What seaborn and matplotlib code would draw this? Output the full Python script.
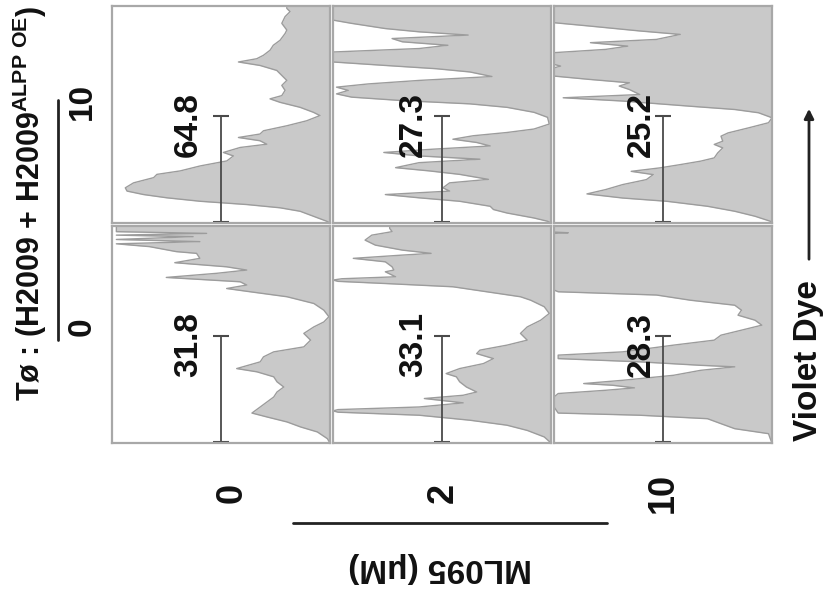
import numpy as np
import pandas as pd
import seaborn as sns
import matplotlib
matplotlib.use("Agg")
import matplotlib.pyplot as plt
from matplotlib.lines import Line2D
from matplotlib.patches import FancyArrowPatch

# ---------------- data ----------------
col_labels = ["0", "2", "10"]          # ML095 (uM)
row_labels = ["10", "0"]               # ratio row labels (top, bottom)
gate_values = [[64.8, 27.3, 25.2],
               [31.8, 33.1, 28.3]]

# Violet dye intensity (0-100, bottom->top) and normalised counts (0-100)
dye_a = [0, 0.8, 3.1, 5.4, 7.0, 8.5, 10.0, 11.6, 13.1, 14.7, 16.2, 18.5, 20.9, 22.4, 24.0, 26.3, 28.6, 30.9, 32.5, 34.8,
         36.3, 37.9, 39.4, 41.0, 42.5, 44.8, 47.1, 49.5, 51.0, 53.3, 55.6, 57.2, 58.7, 61.1, 63.4, 65.7, 68.0, 70.3, 72.6,
         74.2, 75.7, 77.3, 79.6, 81.9, 84.2, 87.3, 88.9, 92.0, 95.1, 97.4, 98.9, 100]
cnt_a = [0, 1.5, 7.6, 13.7, 22.9, 38.2, 59.5, 74.8, 85.5, 93.1, 93.9, 90.1, 80.9, 79.4, 68.7, 59.5, 47.3, 44.3, 48.9, 41.2,
         29.0, 32.1, 42.0, 32.1, 30.5, 19.8, 10.7, 4.6, 7.6, 13.7, 22.9, 27.5, 22.1, 20.6, 22.1, 19.8, 22.1, 24.4, 32.1,
         42.0, 33.6, 30.5, 27.5, 26.0, 22.9, 20.6, 19.8, 22.1, 20.6, 18.3, 19.8, 19.8]

dye_b = [0, 0.8, 2.3, 4.6, 6.2, 7.7, 10.0, 11.6, 13.1, 14.7, 16.2, 18.5, 20.1, 22.4, 24.0, 25.5, 27.8, 29.4, 30.9, 32.5,
         34.0, 35.5, 37.1, 38.6, 40.2, 41.7, 43.3, 45.6, 48.7, 51.0, 53.3, 54.9, 56.4, 58.0, 59.5, 61.1, 62.6, 64.1, 65.7,
         67.5, 69.6, 71.1, 72.6, 74.2, 78.8, 80.4, 81.9, 83.5, 85.0, 86.6, 88.1, 89.6, 92.0, 93.5, 100]
cnt_b = [0, 1.6, 7.8, 20.2, 26.4, 27.9, 41.9, 60.5, 76.0, 46.5, 49.6, 46.5, 28.7, 41.9, 55.8, 71.3, 60.5, 32.6, 60.5, 76.7,
         54.3, 27.9, 34.1, 45.0, 35.7, 20.2, 7.8, 0.8, 1.6, 7.8, 20.2, 37.2, 68.2, 91.5, 98.4, 93.0, 98.4, 83.7, 60.5,
         27.1, 37.2, 52.7, 76.0, 100, 100, 60.5, 47.3, 68.2, 72.9, 38.0, 60.5, 76.0, 91.5, 100, 100]

dye_c = [0, 0.8, 3.1, 5.4, 7.7, 10.0, 11.5, 13.4, 15.4, 17.7, 20.0, 22.3, 23.8, 25.4, 26.9, 28.5, 30.0, 32.3, 34.6, 36.2,
         37.7, 40.0, 41.5, 43.8, 46.2, 48.5, 50.8, 52.3, 53.8, 56.2, 57.7, 59.2, 61.5, 63.1, 64.6, 66.2, 67.7, 71.5, 72.3,
         73.1, 78.5, 80.0, 81.5, 83.1, 84.6, 86.9, 88.5, 90.8, 92.3, 100]
cnt_c = [0, 0.8, 7.8, 17.1, 29.6, 48.3, 68.5, 84.9, 76.3, 68.5, 57.6, 54.5, 64.6, 51.4, 42.1, 32.7, 26.5, 24.9, 22.6, 26.5,
         22.6, 23.4, 20.2, 10.9, 1.6, 0, 6.2, 17.1, 37.4, 68.5, 95.8, 60.7, 65.4, 70.1, 65.4, 84.1, 100, 100, 97,
         100, 100, 76.3, 66.2, 83.3, 53.0, 42.1, 60.7, 84.1, 100, 100]

dye_d = [0, 2.0, 5.1, 7.4, 9.7, 12.0, 13.8, 16.6, 18.9, 21.2, 23.5, 25.8, 28.2, 30.5, 32.8, 34.3, 37.4, 39.7, 42.0, 44.3,
         47.4, 50.5, 53.5, 55.8, 58.2, 61.2, 64.3, 67.4, 69.7, 71.2, 72.8, 74.3, 76.3, 78.2, 79.7, 81.2, 83.1, 85.1, 87.4,
         88.2, 90.5, 91.8, 92.8, 93.8, 95.1, 95.8, 96.6, 97.4, 100]
cnt_d = [0, 1.2, 5.8, 13.5, 19.7, 28.9, 35.8, 32.0, 28.9, 25.8, 24.3, 21.2, 24.3, 25.8, 33.5, 42.8, 32.0, 30.5, 25.8, 12.0,
         8.9, 12.0, 7.4, 2.8, 0.5, 2.8, 7.4, 19.7, 36.6, 47.4, 38.2, 41.2, 75.1, 52.0, 38.2, 47.4, 71.2, 59.7, 61.2,
         70.5, 82.8, 98, 59.7, 98, 62.8, 98, 56.6, 98, 98]

dye_e = [0, 2.8, 5.8, 8.2, 10.5, 12.8, 14.2, 14.8, 15.4, 16.6, 18.5, 20.5, 22.0, 23.5, 25.8, 28.2, 30.5, 32.0, 34.3, 36.6,
         38.9, 41.2, 42.8, 45.1, 47.4, 50.5, 53.5, 56.6, 59.7, 62.8, 65.8, 67.4, 69.7, 72.0, 73.5, 74.5, 75.1, 75.7, 76.6,
         78.9, 79.7, 81.2, 83.5, 85.1, 86.6, 87.4, 88.9, 91.2, 93.5, 95.8, 97.4, 98.9, 100]
cnt_e = [0, 3.1, 10.9, 20.2, 37.2, 60.5, 97.7, 100, 97.7, 60.5, 40.3, 58.1, 40.3, 34.1, 38.8, 41.9, 43.4, 48.1, 41.9, 31.0,
         26.4, 34.1, 32.6, 20.2, 10.9, 14.0, 10.9, 4.7, 0.8, 3.1, 9.3, 14.0, 29.5, 45.0, 76, 97.7, 100, 96, 71.3,
         76.0, 72.1, 72.9, 76.0, 90.7, 68.2, 55.0, 68.2, 80.6, 85.3, 82.2, 72.9, 74, 74]

dye_f = [0, 2.0, 4.3, 6.6, 8.9, 11.2, 12.8, 13.8, 16.6, 21.2, 22.8, 24.3, 25.4, 26.6, 27.4, 28.9, 31.2, 33.5, 35.1, 35.8,
         37.4, 38.9, 40.5, 42.0, 45.1, 47.4, 49.7, 52.0, 54.3, 56.6, 58.9, 61.2, 63.5, 65.8, 68.2, 69.7, 70.5, 96.6, 96.9,
         97.2, 100]
cnt_f = [0, 0.8, 1.6, 17.1, 23.4, 29.6, 60.7, 98.1, 100, 100, 98.1, 76.3, 63.1, 73, 86.4, 68.5, 45.2, 32.7, 17.1, 32.7,
         60.7, 98.1, 98.1, 68.5, 45.2, 26.5, 23.4, 14.0, 4.7, 7.8, 15.6, 14.0, 17.1, 37.4, 53.0, 98.1, 100, 100, 93.5,
         100, 100]

gate_low, gate_high = 0.6, 49.5

panels = [[(dye_a, cnt_a), (dye_b, cnt_b), (dye_c, cnt_c)],
          [(dye_d, cnt_d), (dye_e, cnt_e), (dye_f, cnt_f)]]
label_x = [[0.35, 0.37, 0.40], [0.35, 0.37, 0.40]]

# ---------------- style ----------------
sns.set_theme(style="white")
plt.rcParams["font.family"] = ["Liberation Sans", "DejaVu Sans"]
plt.rcParams["mathtext.fontset"] = "custom"
plt.rcParams["mathtext.rm"] = "Liberation Sans"
plt.rcParams["mathtext.bf"] = "Liberation Sans:bold"

W, H = 827, 596
fig, axes = plt.subplots(2, 3, figsize=(W / 100, H / 100), dpi=100)
fig.subplots_adjust(left=112 / W, right=772 / W, top=1 - 6 / H, bottom=1 - 443 / H,
                    wspace=0.014, hspace=0.014)

fill_c = "#c9c9c9"
edge_c = "#9c9c9c"
txt_c = "#111111"

for r in range(2):
    for c in range(3):
        ax = axes[r, c]
        dye, cnt = panels[r][c]
        df = pd.DataFrame({"dye": dye, "count": cnt})
        ax.fill_betweenx(df["dye"], 0, df["count"], color=fill_c, lw=0)
        sns.lineplot(data=df, x="count", y="dye", orient="y", sort=False, estimator=None,
                     color=edge_c, lw=1.0, ax=ax)
        ax.set_xlim(100, 0)
        ax.set_ylim(0, 100)
        ax.set_xticks([])
        ax.set_yticks([])
        ax.set_xlabel("")
        ax.set_ylabel("")
        for s in ax.spines.values():
            s.set_visible(True)
            s.set_color("#a8a8a8")
            s.set_linewidth(1.6)
        # gate bar
        ax.plot([50, 50], [gate_low, gate_high], color="#4a4a4a", lw=1.3)
        ax.plot([50, 50], [gate_low, gate_high], ls="none", marker="_", ms=11, mew=1.5, color="#4a4a4a")
        ax.text(label_x[r][c], 0.455, f"{gate_values[r][c]:.1f}", transform=ax.transAxes,
                rotation=90, ha="center", va="center", fontsize=24, fontweight="bold", color=txt_c)

def fx(px):
    return px / W

def fy(py):
    return 1 - py / H

# left title
fig.text(fx(30), fy(203), "Tø : (H2009 + H2009$^{\\mathbf{ALPP\\ OE}}$)", rotation=90,
         ha="center", va="center", fontsize=22, fontweight="bold", color=txt_c)
# row labels and bracket line
fig.text(fx(82), fy(101), row_labels[0], rotation=90, ha="center", va="center",
         fontsize=24, fontweight="bold", color=txt_c)
fig.text(fx(82), fy(327), row_labels[1], rotation=90, ha="center", va="center",
         fontsize=24, fontweight="bold", color=txt_c)
fig.add_artist(Line2D([fx(58), fx(58)], [fy(100), fy(340)], transform=fig.transFigure,
                      color="#222222", lw=2))

# column labels
for lab, px in zip(col_labels, [232, 443, 663]):
    fig.text(fx(px), fy(493), lab, rotation=90, ha="center", va="center",
             fontsize=26, fontweight="bold", color=txt_c)
fig.add_artist(Line2D([fx(293), fx(607)], [fy(523), fy(523)], transform=fig.transFigure,
                      color="#222222", lw=2))
fig.text(fx(440), fy(568), "ML095 (μM)", rotation=180, ha="center", va="center",
         fontsize=24, fontweight="bold", color=txt_c)

# right axis label with arrow
fig.text(fx(809), fy(361), "Violet Dye", rotation=90, ha="center", va="center",
         fontsize=24, fontweight="bold", color=txt_c)
fig.add_artist(FancyArrowPatch((fx(809), fy(262)), (fx(809), fy(106)), transform=fig.transFigure,
                               arrowstyle="-|>", mutation_scale=14, lw=2, color="#222222"))

fig.savefig("out.png", dpi=100, facecolor="white")
